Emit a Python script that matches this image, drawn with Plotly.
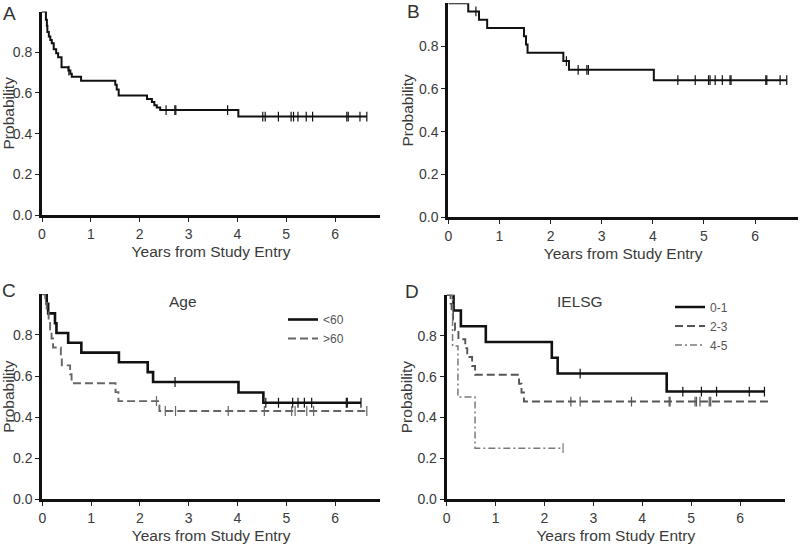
import plotly.graph_objects as go

# ---------------- data ----------------
# Panel A (overall)
a_times = [0.08, 0.10, 0.11, 0.14, 0.17, 0.20, 0.24, 0.29, 0.33, 0.40, 0.54, 0.58, 0.61, 0.80,
           1.50, 1.53, 1.57, 2.15, 2.25, 2.30, 2.35, 2.42, 4.02]
a_surv = [0.96, 0.93, 0.90, 0.877, 0.86, 0.845, 0.815, 0.795, 0.775, 0.726, 0.71, 0.695, 0.68, 0.66,
          0.64, 0.617, 0.587, 0.57, 0.555, 0.54, 0.528, 0.516, 0.484]
a_cens = [0.55, 2.54, 2.72, 2.74, 3.80, 4.52, 4.57, 4.84, 5.10, 5.15, 5.24, 5.41, 5.54, 6.24, 6.27, 6.51, 6.65]
a_end = 6.65

# Panel B
b_times = [0.39, 0.60, 0.76, 1.48, 1.52, 1.55, 2.25, 2.36, 4.02]
b_surv = [0.962, 0.923, 0.885, 0.846, 0.808, 0.769, 0.73, 0.689, 0.641]
b_cens = [0.54, 2.31, 2.54, 2.71, 2.74, 4.49, 4.83, 5.09, 5.12, 5.22, 5.36, 5.51, 5.53, 6.21, 6.23, 6.49, 6.62]
b_end = 6.62

# Panel C (Age)
c1_label = "<60"
c1_times = [0.09, 0.12, 0.26, 0.29, 0.53, 0.80, 1.57, 2.16, 2.27, 4.02, 4.53]
c1_surv = [0.952, 0.905, 0.857, 0.81, 0.762, 0.714, 0.667, 0.619, 0.571, 0.52, 0.47]
c1_cens = [2.72, 4.58, 4.84, 5.13, 5.24, 5.37, 5.52, 6.23, 6.25, 6.53]
c1_end = 6.53

c2_label = ">60"
c2_times = [0.06, 0.09, 0.13, 0.16, 0.19, 0.22, 0.38, 0.40, 0.57, 0.60, 1.50, 1.56, 2.40]
c2_surv = [0.956, 0.913, 0.87, 0.826, 0.783, 0.739, 0.696, 0.652, 0.609, 0.565, 0.522, 0.478, 0.43]
c2_cens = [2.34, 2.52, 2.73, 3.81, 4.55, 5.11, 5.18, 5.42, 5.56, 6.65]
c2_end = 6.65

# Panel D (IELSG)
d1_label = "0-1"
d1_times = [0.14, 0.29, 0.80, 2.15, 2.27, 4.50]
d1_surv = [0.923, 0.846, 0.769, 0.692, 0.615, 0.527]
d1_cens = [2.73, 4.83, 5.21, 5.52, 6.19, 6.50]
d1_end = 6.50

d2_label = "2-3"
d2_times = [0.08, 0.10, 0.13, 0.17, 0.24, 0.38, 0.42, 0.52, 0.58, 1.48, 1.53, 1.58]
d2_surv = [0.957, 0.913, 0.87, 0.826, 0.783, 0.739, 0.696, 0.652, 0.609, 0.565, 0.522, 0.478]
d2_cens = [2.54, 2.73, 3.78, 4.55, 4.57, 5.08, 5.11, 5.18, 5.37, 5.40]
d2_end = 6.63

d3_label = "4-5"
d3_times = [0.12, 0.23, 0.58]
d3_surv = [0.75, 0.50, 0.25]
d3_cens = [2.38]
d3_end = 2.38

x_ticks = [0, 1, 2, 3, 4, 5, 6]
y_ticks = [0.0, 0.2, 0.4, 0.6, 0.8]
y_ticktext = ["0.0", "0.2", "0.4", "0.6", "0.8"]

# ---------------- helpers ----------------
FONT = "Liberation Sans, Arial, Helvetica, sans-serif"
TXT = "#3a3a3a"


def step_xy(times, surv, end):
    xs = [0.0] + list(times) + [end]
    ys = [1.0] + list(surv) + [surv[-1]]
    return xs, ys


def surv_at(t, times, surv):
    s = 1.0
    for ti, si in zip(times, surv):
        if ti <= t:
            s = si
    return s


fig = go.Figure()


def add_curve(times, surv, cens, end, xa, ya, color, width, dash, name=None, legend=None):
    xs, ys = step_xy(times, surv, end)
    fig.add_trace(go.Scatter(
        x=xs, y=ys, mode="lines", line=dict(shape="hv", color=color, width=width, dash=dash),
        xaxis=xa, yaxis=ya, name=name, showlegend=name is not None,
        legend=legend if legend else "legend", hoverinfo="skip"))
    cy = [surv_at(t, times, surv) for t in cens]
    fig.add_trace(go.Scatter(
        x=cens, y=cy, mode="markers", xaxis=xa, yaxis=ya, showlegend=False,
        marker=dict(symbol="line-ns", size=7, line=dict(color=color, width=1.2)),
        hoverinfo="skip"))


add_curve(a_times, a_surv, a_cens, a_end, "x", "y", "#111111", 2.0, "solid")
add_curve(b_times, b_surv, b_cens, b_end, "x2", "y2", "#111111", 2.0, "solid")
add_curve(c1_times, c1_surv, c1_cens, c1_end, "x3", "y3", "#111111", 2.6, "solid", c1_label, "legend")
add_curve(c2_times, c2_surv, c2_cens, c2_end, "x3", "y3", "#666666", 1.9, "8px,4px", c2_label, "legend")
add_curve(d1_times, d1_surv, d1_cens, d1_end, "x4", "y4", "#111111", 2.6, "solid", d1_label, "legend2")
add_curve(d2_times, d2_surv, d2_cens, d2_end, "x4", "y4", "#555555", 1.9, "8px,4px", d2_label, "legend2")
add_curve(d3_times, d3_surv, d3_cens, d3_end, "x4", "y4", "#7a7a7a", 1.5, "7px,3px,2px,3px", d3_label, "legend2")

W, H = 800, 547


def px(xp):
    return xp / W


def py(yp):
    return 1 - yp / H


panels = {
    "": dict(xd=[42.0, 380.0], yd=[11.6, 215.0], xmax=6.92),
    "2": dict(xd=[448.3, 798.0], yd=[3.3, 217.3], xmax=6.84),
    "3": dict(xd=[42.3, 380.0], yd=[293.9, 499.3], xmax=6.92),
    "4": dict(xd=[446.7, 785.0], yd=[294.8, 499.3], xmax=6.92),
}

layout = dict(
    width=W, height=H, margin=dict(l=0, r=0, t=0, b=0),
    paper_bgcolor="white", plot_bgcolor="white",
    font=dict(family=FONT, color=TXT, size=14),
)

for k, p in panels.items():
    xa = dict(
        domain=[px(p["xd"][0]), px(p["xd"][1])], range=[0, p["xmax"]],
        anchor="y" + k, tickvals=x_ticks, ticks="outside", ticklen=4, tickwidth=1, tickcolor="#222",
        showline=True, linewidth=3, linecolor="#111", showgrid=False, zeroline=False,
        tickfont=dict(size=14, color=TXT, family=FONT),
        title=dict(text="Years from Study Entry", font=dict(size=15.5, color=TXT, family=FONT), standoff=6),
        automargin=False,
    )
    ya = dict(
        domain=[py(p["yd"][1]), py(p["yd"][0])], range=[0, 1.0],
        anchor="x" + k, tickvals=y_ticks, ticktext=y_ticktext, ticks="outside", ticklen=4, tickwidth=1,
        tickcolor="#222", showline=True, linewidth=3, linecolor="#111", showgrid=False, zeroline=False,
        tickfont=dict(size=14, color=TXT, family=FONT),
        title=dict(text="Probability", font=dict(size=15.5, color=TXT, family=FONT), standoff=2),
        automargin=False,
    )
    layout["xaxis" + k] = xa
    layout["yaxis" + k] = ya

layout["legend"] = dict(
    x=px(283), y=py(305), xanchor="left", yanchor="top", bgcolor="rgba(0,0,0,0)",
    font=dict(size=12, color="#555", family=FONT), borderwidth=0, itemwidth=30,
)
layout["legend2"] = dict(
    x=px(670), y=py(292.5), xanchor="left", yanchor="top", bgcolor="rgba(0,0,0,0)",
    font=dict(size=12, color="#555", family=FONT), borderwidth=0, itemwidth=30,
)

annots = [
    dict(text="A", x=px(9), y=py(13)),
    dict(text="B", x=px(413), y=py(11.5)),
    dict(text="C", x=px(8.5), y=py(290)),
    dict(text="D", x=px(411.5), y=py(291.5)),
]
ann = []
for a in annots:
    ann.append(dict(text=a["text"], x=a["x"], y=a["y"], xref="paper", yref="paper", showarrow=False,
                    xanchor="center", yanchor="middle", font=dict(size=19, color="#333", family=FONT)))
ann.append(dict(text="Age", x=px(183), y=py(301.7), xref="paper", yref="paper", showarrow=False,
                xanchor="center", yanchor="middle", font=dict(size=15.5, color=TXT, family=FONT)))
ann.append(dict(text="IELSG", x=px(580), y=py(301.7), xref="paper", yref="paper", showarrow=False,
                xanchor="center", yanchor="middle", font=dict(size=15.5, color=TXT, family=FONT)))
layout["annotations"] = ann

fig.update_layout(**layout)
fig.write_html(
    "out.html",
    config={"displayModeBar": False},
    post_script="document.body.style.margin='0';document.body.style.overflow='hidden';",
)
